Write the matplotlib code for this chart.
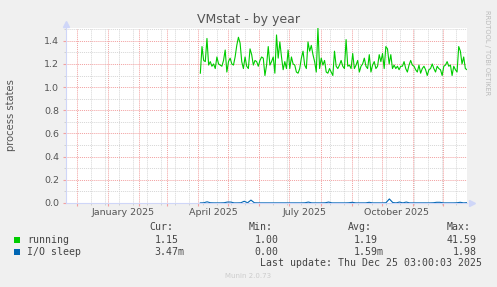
import matplotlib.pyplot as plt
import matplotlib.dates as mdates
from matplotlib.patches import Rectangle
from matplotlib.ticker import MultipleLocator, NullFormatter, FormatStrFormatter, FixedLocator
import pandas as pd

W, H = 497, 287

# time window of the graph (munin year view = 400 days)
view_start = '2024-11-20 03:00'
view_end = '2025-12-25 03:00'
series_start = '2025-04-03 03:00'

# running processes left to right
running = [
    1.12, 1.35, 1.23, 1.22, 1.42, 1.19, 1.22, 1.18, 1.20, 1.16,
    1.26, 1.20, 1.19, 1.18, 1.23, 1.32, 1.13, 1.22, 1.25, 1.20,
    1.19, 1.26, 1.36, 1.43, 1.38, 1.22, 1.16, 1.26, 1.18, 1.16,
    1.33, 1.28, 1.19, 1.23, 1.22, 1.18, 1.23, 1.26, 1.25, 1.10,
    1.19, 1.35, 1.19, 1.22, 1.26, 1.12, 1.45, 1.25, 1.39, 1.26,
    1.15, 1.22, 1.16, 1.32, 1.16, 1.26, 1.20, 1.19, 1.13, 1.12,
    1.16, 1.25, 1.31, 1.19, 1.16, 1.39, 1.31, 1.36, 1.28, 1.22,
    1.13, 1.51, 1.16, 1.25, 1.19, 1.23, 1.13, 1.12, 1.16, 1.13,
    1.10, 1.31, 1.18, 1.16, 1.19, 1.23, 1.18, 1.16, 1.41, 1.18,
    1.19, 1.16, 1.29, 1.16, 1.19, 1.23, 1.13, 1.18, 1.20, 1.25,
    1.18, 1.16, 1.28, 1.13, 1.19, 1.22, 1.16, 1.18, 1.28, 1.22,
    1.29, 1.16, 1.35, 1.33, 1.20, 1.28, 1.16, 1.19, 1.16, 1.18,
    1.15, 1.18, 1.18, 1.22, 1.16, 1.13, 1.19, 1.23, 1.19, 1.18,
    1.15, 1.13, 1.19, 1.12, 1.16, 1.18, 1.15, 1.10, 1.15, 1.16,
    1.20, 1.16, 1.13, 1.18, 1.16, 1.15, 1.10, 1.18, 1.19, 1.22,
    1.18, 1.19, 1.10, 1.18, 1.15, 1.13, 1.35, 1.31, 1.20, 1.26,
    1.16, 1.15,
]

# I/O sleep, almost flat with a few small bumps
io_sleep = [
    0.001, 0.002, 0.010, 0.002, 0.001, 0.001, 0.001, 0.002, 0.008, 0.008,
    0.001, 0.001, 0.002, 0.015, 0.002, 0.025, 0.002, 0.001, 0.001, 0.001,
    0.001, 0.001, 0.001, 0.001, 0.001, 0.001, 0.001, 0.001, 0.001, 0.001,
    0.001, 0.002, 0.008, 0.001, 0.001, 0.001, 0.001, 0.002, 0.008, 0.001,
    0.001, 0.001, 0.001, 0.001, 0.002, 0.006, 0.001, 0.001, 0.001, 0.001,
    0.006, 0.001, 0.001, 0.001, 0.001, 0.002, 0.035, 0.004, 0.001, 0.008,
    0.001, 0.008, 0.001, 0.001, 0.001, 0.001, 0.001, 0.001, 0.001, 0.002,
    0.006, 0.006, 0.001, 0.001, 0.001, 0.001, 0.002, 0.006, 0.001, 0.003,
]

x_labels = ['January 2025', 'April 2025', 'July 2025', 'October 2025']

series_names = ['running', 'I/O sleep']
series_colors = ['#00CC00', '#0066B3']
headers = ['Cur:', 'Min:', 'Avg:', 'Max:']
cur_vals = ['1.15', '3.47m']
min_vals = ['1.00', '0.00']
avg_vals = ['1.19', '1.59m']
max_vals = ['41.59', '1.98']
last_update = 'Last update: Thu Dec 25 03:00:03 2025'


def fx(x):
    return x / W


def fy(y):
    return 1 - y / H


fig = plt.figure(figsize=(W / 100, H / 100), dpi=100, facecolor='#F0F0F0')
ax = fig.add_axes([fx(66), fy(203), 401 / W, 175 / H])
ax.set_facecolor('white')

run_dates = pd.date_range(series_start, view_end, periods=len(running))
io_dates = pd.date_range(series_start, view_end, periods=len(io_sleep))
ax.plot(run_dates, running, color=series_colors[0], lw=0.8)
ax.plot(io_dates, io_sleep, color=series_colors[1], lw=0.8)

ax.set_xlim(pd.Timestamp(view_start), pd.Timestamp(view_end))
ax.set_ylim(0, 1.51)

# red lines on month starts, grey ones every other sunday
fortnights = pd.date_range('2024-12-01', view_end, freq='14D')
ax.xaxis.set_major_locator(mdates.MonthLocator())
ax.xaxis.set_minor_locator(FixedLocator(mdates.date2num(fortnights)))
ax.xaxis.set_major_formatter(NullFormatter())
ax.yaxis.set_major_locator(MultipleLocator(0.2))
ax.yaxis.set_minor_locator(MultipleLocator(0.1))
ax.yaxis.set_major_formatter(FormatStrFormatter('%.1f'))

ax.set_axisbelow(True)
ax.grid(which='minor', color='#D6D6D6', ls=(0, (1, 1)), lw=0.7)
ax.grid(which='major', color='#F2A0A0', ls=(0, (1, 1)), lw=0.7)
ax.tick_params(which='major', length=2, color='#F2A0A0', labelsize=6.8,
               labelcolor='#555555', pad=3)
ax.tick_params(which='minor', length=1.5, color='#CCCCCC')

for s in ['top', 'right']:
    ax.spines[s].set_visible(False)
for s in ['left', 'bottom']:
    ax.spines[s].set_color('#CFD6F8')
    ax.spines[s].set_linewidth(0.8)

# axis arrows
ax.plot([0], [1.025], marker='^', color='#CFD6F8', ms=4, transform=ax.transAxes, clip_on=False)
ax.plot([1.012], [0], marker='>', color='#CFD6F8', ms=4, transform=ax.transAxes, clip_on=False)

# month labels are centred in the month, like rrdtool does
for lab in x_labels:
    d = pd.to_datetime(lab, format='%B %Y') + pd.Timedelta(days=15)
    ax.annotate(lab, xy=(d, 0), xycoords=('data', 'axes fraction'),
                xytext=(0, -3.5), textcoords='offset points',
                ha='center', va='top', fontsize=6.8, color='#555555')

fig.text(fx(249), fy(19), 'VMstat - by year', ha='center', va='center',
         fontsize=9, color='#555555')
fig.text(fx(11), fy(115), 'process states', rotation=90, ha='center', va='center',
         fontsize=7.2, color='#555555')
fig.text(fx(487), fy(53), 'RRDTOOL / TOBI OETIKER', rotation=270, ha='center',
         va='center', fontsize=4.8, color='#BBBBBB')

# legend block
mono = dict(family='DejaVu Sans Mono', fontsize=7.1, color='#444444', va='center')
for hx, h in zip([149, 249, 348, 447], headers):
    fig.text(fx(hx), fy(227), h, ha='left', **mono)

col_right = [178.3, 278.3, 377.7, 476.7]
rows_y = [240, 252]
for i, name in enumerate(series_names):
    y = rows_y[i]
    fig.add_artist(Rectangle((fx(14), fy(y + 3)), 6 / W, 6 / H,
                             transform=fig.transFigure, facecolor=series_colors[i],
                             edgecolor='none'))
    fig.text(fx(27), fy(y), name, ha='left', **mono)
    for cx, vals in zip(col_right, [cur_vals, min_vals, avg_vals, max_vals]):
        v = vals[i]
        x = cx + 6.3 if v.endswith('m') else cx
        fig.text(fx(x), fy(y), v, ha='right', **mono)

fig.text(fx(482), fy(263), last_update, ha='right', **mono)
fig.text(fx(248), fy(276), 'Munin 2.0.73', ha='center', va='center',
         fontsize=5, color='#CCCCCC')

fig.savefig('out.png', dpi=100, facecolor=fig.get_facecolor())
